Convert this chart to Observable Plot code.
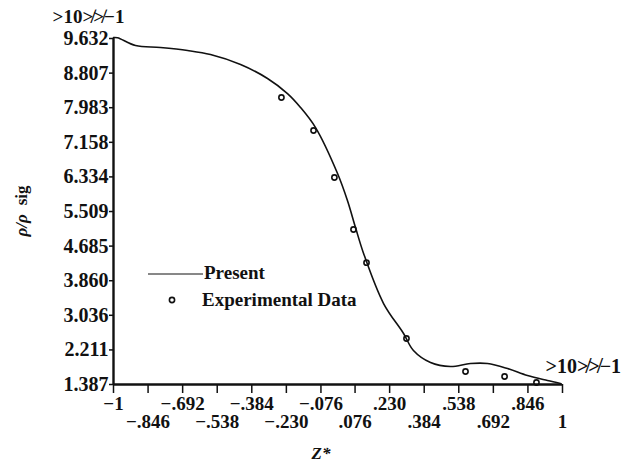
<!DOCTYPE html>
<html>
<head>
<meta charset="utf-8">
<script src="https://cdn.jsdelivr.net/npm/d3@7"></script>
<script src="https://cdn.jsdelivr.net/npm/@observablehq/plot@0.6"></script>
<style>
  html, body { margin: 0; padding: 0; background: #fff; }
  #chart { width: 639px; height: 470px; }
</style>
</head>
<body>
<div id="chart"></div>
<script>
// ---- data ----
const curveZ = [-1, -0.982, -0.902, -0.791, -0.670, -0.568, -0.434, -0.314, -0.225, -0.167, -0.100, -0.002, 0.042, 0.078, 0.114, 0.203, 0.292, 0.336, 0.412, 0.501, 0.590, 0.666, 0.755, 0.844, 0.933, 0.991];
const curveV = [9.656, 9.650, 9.465, 9.418, 9.346, 9.251, 9.013, 8.680, 8.320, 7.990, 7.510, 6.415, 5.772, 5.128, 4.509, 3.317, 2.602, 2.197, 1.911, 1.816, 1.887, 1.887, 1.768, 1.601, 1.482, 1.411];

const expZ = [-0.252, -0.109, -0.016, 0.069, 0.127, 0.305, 0.568, 0.742, 0.884];
const expV = [8.226, 7.440, 6.320, 5.080, 4.290, 2.483, 1.697, 1.578, 1.435];

const yTicks = [9.632, 8.807, 7.983, 7.158, 6.334, 5.509, 4.685, 3.860, 3.036, 2.211, 1.387];
const xTicks = [-1, -0.846, -0.692, -0.538, -0.384, -0.230, -0.076, 0.076, 0.230, 0.384, 0.538, 0.692, 0.846, 1];
const xTickLabels = ["\u22121", "\u2212.846", "\u2212.692", "\u2212.538", "\u2212.384", "\u2212.230", "\u2212.076", ".076", ".230", ".384", ".538", ".692", ".846", "1"];

const scaleNote = ">10\u226F\u226F\u22121";
const legendLabels = ["Present", "Experimental Data"];
const yLabelParts = ["\u03C1/\u03C1", "sig"];
const xLabelText = "Z*";

// ---- tables ----
const curve = curveZ.map((z, i) => ({z, v: curveV[i]}));
const exp = expZ.map((z, i) => ({z, v: expV[i]}));
const xLabel = d => xTickLabels[xTicks.indexOf(d)];

const serif = "'Liberation Serif', 'Times New Roman', serif";

const svg = Plot.plot({
  width: 639,
  height: 470,
  marginLeft: 113,
  marginRight: 77,
  marginTop: 38,
  marginBottom: 86,
  style: {fontFamily: serif, fontSize: "19px", fontWeight: "bold", color: "#111", background: "#fff"},
  x: {domain: [-1, 1]},
  y: {domain: [1.387, 9.632]},
  marks: [
    Plot.axisY(yTicks, {tickSize: 4, tickPadding: 1, tickFormat: d => d.toFixed(3), label: null, fontSize: 20, fontWeight: "bold", strokeWidth: 1.5}),
    Plot.axisX(xTicks.filter((d, i) => i % 2 === 0), {tickSize: 9, tickPadding: 3, tickFormat: xLabel, label: null, fontSize: 19, fontWeight: "bold", strokeWidth: 1.5}),
    Plot.axisX(xTicks.filter((d, i) => i % 2 === 1), {tickSize: 9, tickPadding: 21, tickFormat: xLabel, label: null, fontSize: 19, fontWeight: "bold", strokeWidth: 1.5}),
    Plot.ruleX([-1], {stroke: "#111", strokeWidth: 2.4}),
    Plot.ruleY([1.387], {stroke: "#111", strokeWidth: 2.4}),
    Plot.line(curve, {x: "z", y: "v", curve: "catmull-rom", stroke: "#111", strokeWidth: 1.6}),
    Plot.dot(exp, {x: "z", y: "v", r: 2.6, stroke: "#111", strokeWidth: 1.6, fill: "none"}),
    Plot.text([scaleNote], {x: () => -1, y: () => 9.632, dx: -25, dy: -22, text: d => d, textAnchor: "middle", fontSize: 19, fontWeight: "bold", fill: "#111"}),
    Plot.text([scaleNote], {x: () => 1, y: () => 1.387, dx: -17, dy: -18, text: d => d, textAnchor: "start", fontSize: 20, fontWeight: "bold", fill: "#111"}),
    Plot.text([xLabelText], {frameAnchor: "bottom", dx: -17, dy: 74, fontSize: 17, fontStyle: "italic", fontWeight: "bold", fill: "#111"})
  ]
});

const root = d3.select(svg);

// y-axis title (rotated, mixed styles)
const yl = root.append("text")
  .attr("transform", "translate(22,211) rotate(-90)")
  .attr("text-anchor", "middle").attr("dy", "0.32em")
  .attr("font-family", serif).attr("font-weight", "bold").attr("font-size", 17).attr("fill", "#111");
yl.append("tspan").attr("font-style", "italic").text(yLabelParts[0]);
yl.append("tspan").attr("dx", 9).text(yLabelParts[1]);

// legend inside the frame
const g = root.append("g").attr("transform", "translate(148,274)")
  .attr("font-family", serif).attr("font-weight", "bold").attr("font-size", 19).attr("fill", "#111")
  .attr("text-anchor", "start");
g.append("line").attr("x1", 0).attr("x2", 55).attr("y1", 0).attr("y2", 0).attr("stroke", "#111").attr("stroke-width", 1);
g.append("text").attr("x", 56).attr("y", -1).attr("dy", "0.32em").text(legendLabels[0]);
g.append("circle").attr("cx", 24).attr("cy", 26).attr("r", 2.6).attr("fill", "none").attr("stroke", "#111").attr("stroke-width", 1.6);
g.append("text").attr("x", 54).attr("y", 26).attr("dy", "0.32em").text(legendLabels[1]);

document.getElementById("chart").appendChild(svg);
</script>
</body>
</html>
